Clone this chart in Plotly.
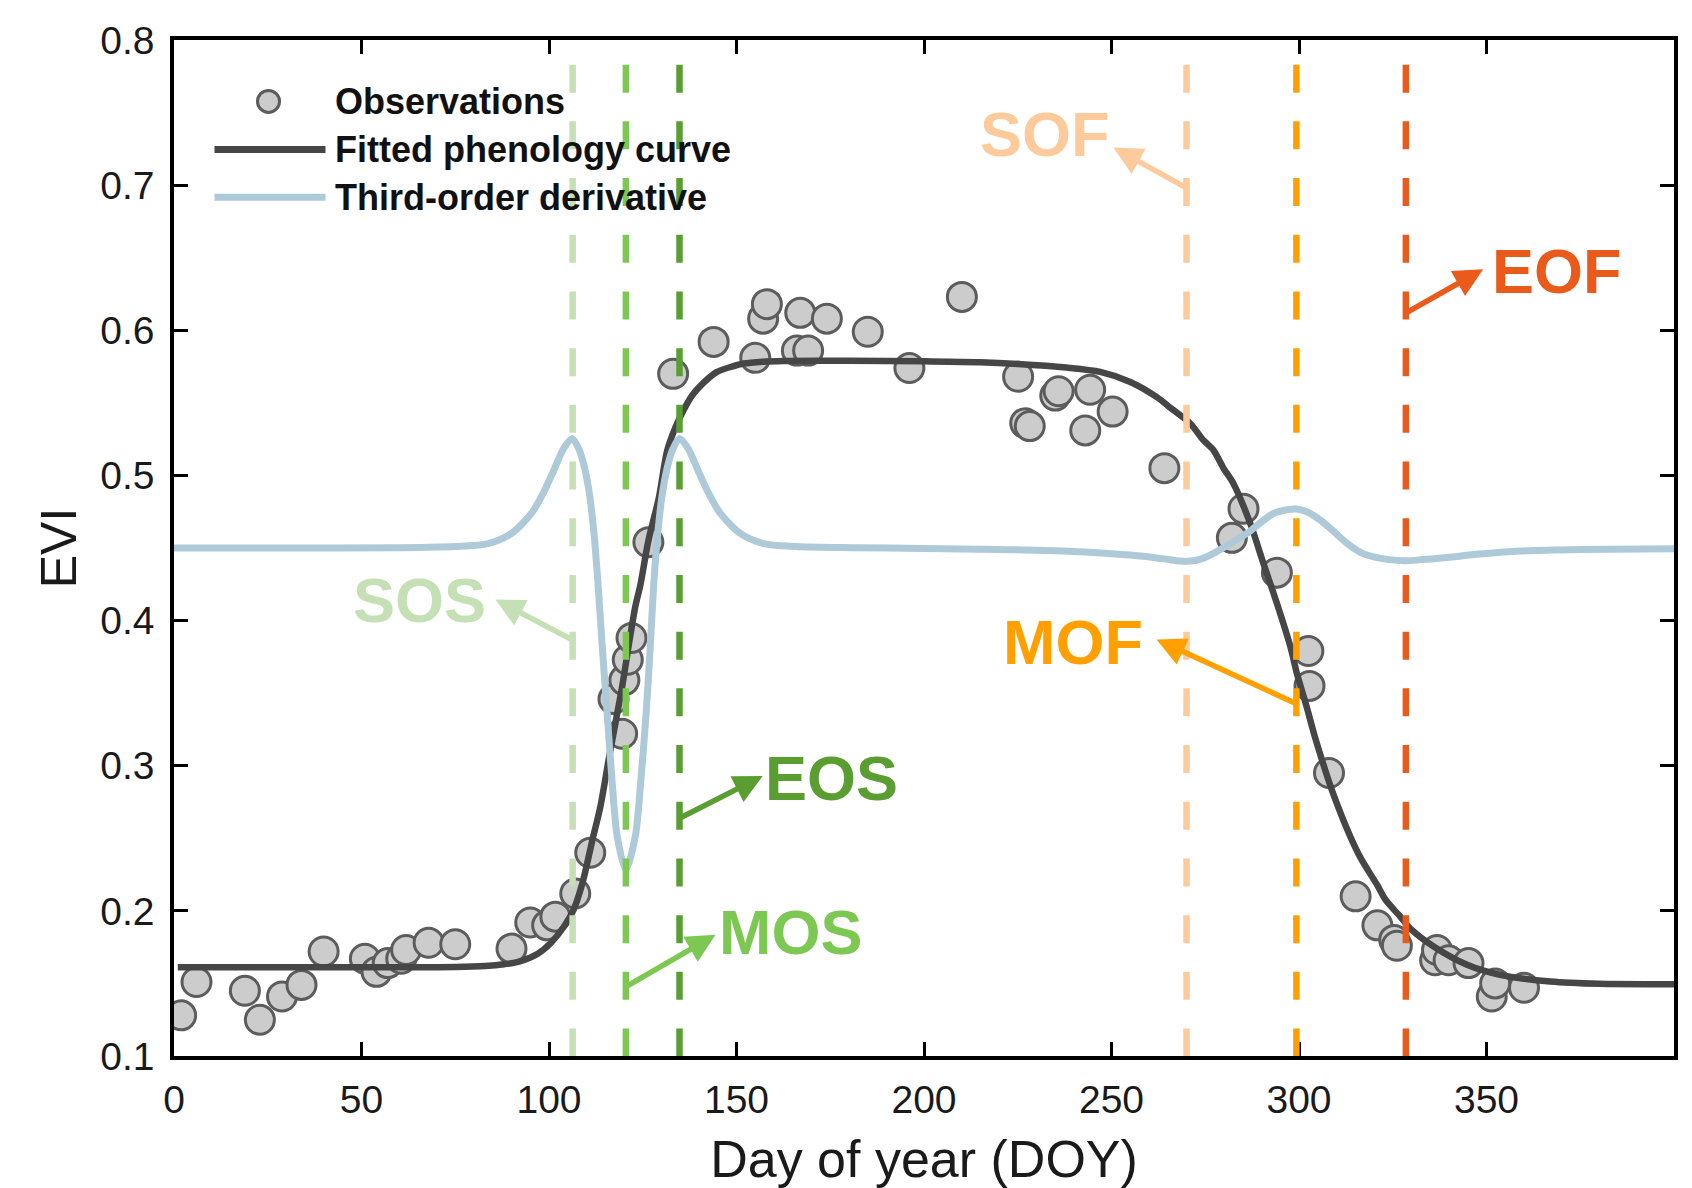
import plotly.graph_objects as go

# ---------------- data ----------------
obs_doy = [1.9, 6.0, 18.9, 22.9, 28.8, 34.0, 39.9, 50.9, 54.0, 57.0, 60.6, 61.9, 67.9, 75.0,
           90.0, 95.0, 99.5, 101.7, 107.0, 111.0, 117.2, 119.5, 120.1, 121.0, 122.0, 126.5,
           133.1, 143.9, 155.0, 157.1, 158.1, 166.1, 167.0, 169.1, 174.1, 185.0, 196.1, 210.1,
           225.1, 227.0, 228.2, 235.0, 235.9, 243.0, 244.3, 250.3, 264.1, 282.1, 285.2, 294.1,
           302.5, 302.8, 308.0, 315.1, 320.9, 325.4, 326.1, 336.3, 336.8, 339.9, 345.2, 351.4,
           352.3, 360.0]
obs_evi = [0.128, 0.151, 0.145, 0.125, 0.141, 0.149, 0.172, 0.167, 0.158, 0.164, 0.167, 0.173, 0.178, 0.177,
           0.174, 0.192, 0.190, 0.196, 0.212, 0.240, 0.346, 0.322, 0.359, 0.373, 0.388, 0.454,
           0.570, 0.592, 0.581, 0.608, 0.618, 0.586, 0.612, 0.586, 0.608, 0.599, 0.574, 0.623,
           0.568, 0.536, 0.534, 0.555, 0.558, 0.531, 0.559, 0.544, 0.505, 0.457, 0.477, 0.433,
           0.379, 0.355, 0.295, 0.210, 0.190, 0.180, 0.176, 0.166, 0.173, 0.166, 0.164, 0.141,
           0.150, 0.147]

fit_doy = [1, 20, 40, 60, 75, 83, 88, 92, 97, 100.4, 104, 106.6, 109, 111.5, 113.7, 115.9, 117.7,
           119.5, 121.2, 123.0, 124.4, 126.5, 129.3, 131.5, 133.7, 135.9, 138, 140.3, 144.8, 148.8,
           151.9, 157, 162.6, 180, 200, 215, 225, 238, 247, 255, 262, 266, 271, 274.5, 277.2, 279.9,
           282.5, 287, 290.5, 294.1, 297.7, 299.4, 302, 304.4, 309.5, 315.9, 320.8, 323.1, 327, 330,
           335.9, 344.8, 353.6, 367, 380, 400]
fit_evi = [0.1612, 0.1612, 0.1612, 0.1612, 0.1613, 0.1620, 0.1632, 0.1650, 0.1705, 0.1777, 0.1892,
           0.2010, 0.2200, 0.2480, 0.2718, 0.3040, 0.3292, 0.3544, 0.3820, 0.4095, 0.4250, 0.4550,
           0.4847, 0.5170, 0.5330, 0.5450, 0.5545, 0.5615, 0.5713, 0.5750, 0.5771, 0.5784, 0.5789,
           0.5790, 0.5786, 0.5780, 0.5768, 0.5743, 0.5713, 0.5644, 0.5541, 0.5460, 0.5358, 0.5243,
           0.5174, 0.5048, 0.4945, 0.4669, 0.4394, 0.4119, 0.3820, 0.3640, 0.3410, 0.3185, 0.2780,
           0.2390, 0.2180, 0.2075, 0.1961, 0.1870, 0.1754, 0.1628, 0.1559, 0.1513, 0.1497, 0.1495]

deriv_doy = [0, 30, 60, 75, 83.8, 90, 95.4, 98.5, 101.2, 104.0, 106.2, 108.0, 109.5, 110.8, 112.0,
             113.0, 114.2, 115.5, 116.8, 118.2, 120.5, 123.0, 124.5, 125.9, 127.0, 128.0, 129.0,
             130.2, 131.5, 133.0, 134.8, 137.0, 139.8, 142.5, 145.6, 151.0, 157.2, 166, 181, 200,
             220, 237, 250, 258.4, 264, 268.3, 270.5, 274, 277.2, 281, 286.1, 290, 293.2, 296.5,
             299.3, 302.5, 305.7, 309, 312.8, 316.5, 319.9, 324, 328.2, 333, 339.4, 348.3, 359,
             375, 400]
deriv_evi = [0.4500, 0.4500, 0.4502, 0.4510, 0.4530, 0.4600, 0.4742, 0.4880, 0.5031, 0.5190, 0.5255,
             0.5180, 0.5050, 0.4870, 0.4600, 0.4279, 0.3820, 0.3361, 0.2902, 0.2511, 0.2282, 0.2511,
             0.2902, 0.3361, 0.3820, 0.4279, 0.4600, 0.4870, 0.5050, 0.5180, 0.5255, 0.5190, 0.5031,
             0.4880, 0.4742, 0.4600, 0.4530, 0.4510, 0.4502, 0.4497, 0.4490, 0.4479, 0.4460, 0.4443,
             0.4425, 0.4410, 0.4408, 0.4425, 0.4463, 0.4520, 0.4600, 0.4680, 0.4738, 0.4762, 0.4768,
             0.4745, 0.4692, 0.4620, 0.4532, 0.4468, 0.4439, 0.4420, 0.4412, 0.4420, 0.4435, 0.4458,
             0.4479, 0.4490, 0.4495]

pheno_labels = ["SOS", "MOS", "EOS", "SOF", "MOF", "EOF"]
pheno_doy = [106.3, 120.5, 134.8, 270.0, 299.3, 328.5]

x_ticks = [0, 50, 100, 150, 200, 250, 300, 350]
y_ticks = [0.1, 0.2, 0.3, 0.4, 0.5, 0.6, 0.7, 0.8]
legend_labels = ["Observations", "Fitted phenology curve", "Third-order derivative"]

# ---------------- styles / layout placement ----------------
FONT = "Arial, Liberation Sans, Helvetica, sans-serif"
pheno_colors = {"SOS": "#c5e0b4", "MOS": "#7dc852", "EOS": "#5a9e32",
                "SOF": "#fdcb9b", "MOF": "#ffa000", "EOF": "#ea5a1a"}
fit_color = "#464646"
deriv_color = "#aecad8"
marker_fill = "#cccccc"
marker_edge = "#5c5c5c"

# text centre (x, y), arrow tail y on the dashed line, arrow head (x, y)
label_place = {
    "SOS": dict(text=(65.4, 0.414), tail_y=0.3866, head=(85.7, 0.4146)),
    "MOS": dict(text=(164.4, 0.1856), tail_y=0.1477, head=(144.4, 0.1835)),
    "EOS": dict(text=(175.3, 0.2916), tail_y=0.2638, head=(157.0, 0.2929)),
    "SOF": dict(text=(232.3, 0.735), tail_y=0.698, head=(250.5, 0.726)),
    "MOF": dict(text=(239.8, 0.385), tail_y=0.3427, head=(262.0, 0.387)),
    "EOF": dict(text=(368.8, 0.6406), tail_y=0.612, head=(349.1, 0.642)),
}

fig = go.Figure()

fig.add_trace(go.Scatter(
    x=obs_doy, y=obs_evi, mode="markers", name=legend_labels[0], showlegend=False,
    marker=dict(size=29, color=marker_fill, line=dict(color=marker_edge, width=3)),
))
fig.add_trace(go.Scatter(
    x=fit_doy, y=fit_evi, mode="lines", name=legend_labels[1], showlegend=False,
    line=dict(color=fit_color, width=6.5, shape="spline", smoothing=0.8),
))
fig.add_trace(go.Scatter(
    x=deriv_doy, y=deriv_evi, mode="lines", name=legend_labels[2], showlegend=False,
    line=dict(color=deriv_color, width=7, shape="spline", smoothing=0.8),
))

# phenology dashed lines, arrows and labels
for lab, d in zip(pheno_labels, pheno_doy):
    c = pheno_colors[lab]
    fig.add_shape(type="line", xref="x", yref="y", x0=d, x1=d, y0=0.783, y1=0.1,
                  line=dict(color=c, width=6.5, dash="28px,28.7px"), layer="above")
    p = label_place[lab]
    fig.add_annotation(xref="x", yref="y", axref="x", ayref="y",
                       x=p["head"][0], y=p["head"][1], ax=d, ay=p["tail_y"],
                       text="", showarrow=True, arrowhead=2, arrowsize=1.05,
                       arrowwidth=5.5, arrowcolor=c)
    fig.add_annotation(xref="x", yref="y", x=p["text"][0], y=p["text"][1],
                       text="<b>%s</b>" % lab, showarrow=False,
                       xanchor="center", yanchor="middle",
                       font=dict(family=FONT, size=63, color=c))

# manual legend (long line samples as in the reference)
leg_y = [0.7577, 0.7246, 0.6916]
fig.add_shape(type="circle", xref="x", yref="y", xsizemode="pixel", ysizemode="pixel",
              xanchor=25.2, yanchor=leg_y[0], x0=-11, x1=11, y0=-11, y1=11,
              fillcolor=marker_fill, line=dict(color=marker_edge, width=3), layer="above")
fig.add_shape(type="line", xref="x", yref="y", x0=10.8, x1=40.4, y0=leg_y[1], y1=leg_y[1],
              line=dict(color=fit_color, width=7), layer="above")
fig.add_shape(type="line", xref="x", yref="y", x0=10.8, x1=40.4, y0=leg_y[2], y1=leg_y[2],
              line=dict(color=deriv_color, width=7), layer="above")
for lab, yy in zip(legend_labels, leg_y):
    fig.add_annotation(xref="x", yref="y", x=42.5, y=yy, text="<b>%s</b>" % lab,
                       showarrow=False, xanchor="left", yanchor="middle",
                       font=dict(family=FONT, size=36, color="#111111"))

axis_common = dict(showline=True, linecolor="black", linewidth=3.5, mirror="ticks",
                   ticks="inside", ticklen=14, tickwidth=3, tickcolor="black",
                   showgrid=False, zeroline=False,
                   tickfont=dict(family=FONT, size=39, color="#1a1a1a"))

fig.update_xaxes(range=[0, 400], tickvals=x_ticks, ticktext=[str(v) for v in x_ticks],
                 ticklabelstandoff=6,
                 title=dict(text="Day of year (DOY)", font=dict(family=FONT, size=52, color="#1a1a1a"),
                            standoff=22),
                 automargin=False, **axis_common)
fig.update_yaxes(range=[0.1, 0.8], tickvals=y_ticks, ticktext=["%.1f" % v for v in y_ticks],
                 ticklabelstandoff=8,
                 title=dict(text="EVI", font=dict(family=FONT, size=50, color="#1a1a1a"),
                            standoff=9),
                 automargin=False, **axis_common)

# the page body adds an 8 px offset; size the figure so the plot area lands where the reference has it
fig.update_layout(
    width=1684, height=1180,
    margin=dict(l=166, r=18, t=32, b=132, pad=0),
    plot_bgcolor="white", paper_bgcolor="white",
    showlegend=False,
    font=dict(family=FONT),
)

fig.write_html("out.html")
